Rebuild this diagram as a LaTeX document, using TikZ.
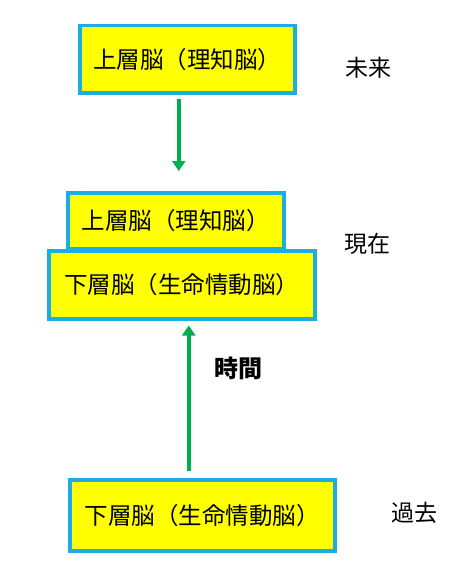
\documentclass[tikz,border=0pt]{standalone}
\usepackage{fontspec}
\setmainfont{Noto Sans CJK JP}
\usetikzlibrary{arrows.meta, positioning, calc}

\definecolor{brainfill}{RGB}{255,255,0}
\definecolor{brainline}{RGB}{28,173,228}
\definecolor{timegreen}{RGB}{0,176,80}

\begin{document}
\begin{tikzpicture}[
  x=1pt, y=-1pt,
  brain/.style={draw=brainline, line width=3.5pt, fill=brainfill, inner sep=0pt,
    font=\fontsize{23.5}{28}\selectfont, anchor=north west},
  era/.style={font=\fontsize{23}{27}\selectfont},
  timearrow/.style={draw=timegreen, line width=4pt, -{Triangle[length=10pt,width=13pt]}}
]
  \useasboundingbox (0,0) rectangle (459,578);

  % past -> present -> future
  \node[brain, minimum width=215pt, minimum height=67pt] (upperF) at (78,24) {上層脳（理知脳）};
  \node[brain, minimum width=216pt, minimum height=56pt] (upperN) at (66,191) {上層脳（理知脳）};
  \node[brain, minimum width=266pt, minimum height=68pt] (lowerN) at (47,249) {下層脳（生命情動脳）};
  \node[brain, minimum width=265pt, minimum height=71pt] (lowerP) at (68,478) {下層脳（生命情動脳）};

  % arrows
  \draw[timearrow] ([xshift=-8.5pt, yshift=-4pt]upperF.south) -- ([xshift=3pt, yshift=20pt]upperN.north);
  \draw[timearrow] ([xshift=-13.5pt, yshift=7pt]lowerP.north) -- ([xshift=7pt, yshift=-5pt]lowerN.south);
  \node[font=\fontsize{24}{28}\selectfont\bfseries] (time) at (238,368) {時間};

  % labels
  \node[era] (future) at (368,68) {未来};
  \node[era] (present) at (367,244) {現在};
  \node[era] (past) at (414,513) {過去};
\end{tikzpicture}
\end{document}
